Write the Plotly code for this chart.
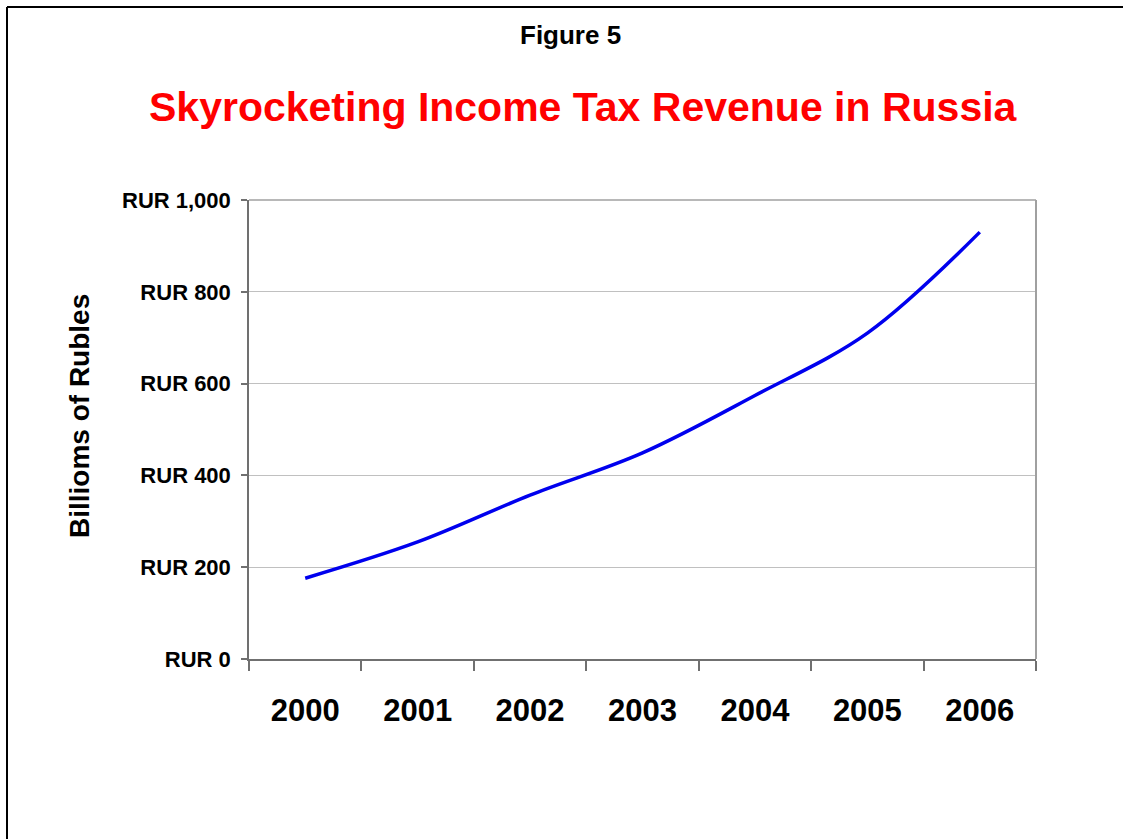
import plotly.graph_objects as go

years = ["2000", "2001", "2002", "2003", "2004", "2005", "2006"]
revenue = [176, 255, 357, 449, 574, 710, 930]
y_tick_vals = [0, 200, 400, 600, 800, 1000]
y_tick_text = ["RUR 0", "RUR 200", "RUR 400", "RUR 600", "RUR 800", "RUR 1,000"]

FONT = "Liberation Sans, Arial, sans-serif"

fig = go.Figure()
fig.add_trace(go.Scatter(
    x=years, y=revenue, mode="lines",
    line=dict(color="#0000ee", width=3.5, shape="spline", smoothing=1.0),
    hoverinfo="x+y", showlegend=False,
))

fig.update_layout(
    width=1123, height=839,
    margin=dict(l=249, r=87, t=200, b=180),
    paper_bgcolor="white", plot_bgcolor="white",
    font=dict(family=FONT, color="black"),
    xaxis=dict(
        type="category", tickson="boundaries",
        showgrid=False, showline=True, linecolor="#707070", linewidth=1.5,
        ticks="outside", ticklen=10, tickcolor="#707070", tickwidth=1.5,
        tickfont=dict(size=31, family=FONT, weight="bold"),
        ticklabelstandoff=23,
        range=[-0.5, 6.5], fixedrange=True,
    ),
    yaxis=dict(
        range=[0, 1000], tickvals=y_tick_vals, ticktext=y_tick_text,
        showgrid=True, gridcolor="#c0c0c0", gridwidth=1,
        showline=True, linecolor="#707070", linewidth=1.5,
        ticks="outside", ticklen=6, tickcolor="#707070", tickwidth=1.5,
        tickfont=dict(size=22, family=FONT, weight="bold"),
        ticklabelstandoff=6,
        zeroline=False, fixedrange=True,
    ),
    shapes=[
        # top and right frame of plot area
        dict(type="line", xref="paper", yref="paper", x0=0, x1=1, y0=1, y1=1,
             line=dict(color="#a0a0a0", width=1.5)),
        dict(type="line", xref="paper", yref="paper", x0=1, x1=1, y0=0, y1=1,
             line=dict(color="#a0a0a0", width=2)),
        # outer page border (left and top edges visible)
        dict(type="line", xref="paper", yref="paper",
             x0=(7 - 249) / 787, x1=(7 - 249) / 787,
             y0=(659 - 839) / 459, y1=(659 - 7) / 459,
             line=dict(color="black", width=2), layer="below"),
        dict(type="line", xref="paper", yref="paper",
             x0=(7 - 249) / 787, x1=(1123 - 249) / 787,
             y0=(659 - 7) / 459, y1=(659 - 7) / 459,
             line=dict(color="black", width=2), layer="below"),
    ],
    annotations=[
        dict(text="<b>Figure 5</b>", xref="paper", yref="paper",
             x=(570 - 249) / 787, y=(659 - 35) / 459, showarrow=False,
             font=dict(size=26, family=FONT, color="black"),
             xanchor="center", yanchor="middle"),
        dict(text="<b>Skyrocketing Income Tax Revenue in Russia</b>", xref="paper", yref="paper",
             x=(583 - 249) / 787, y=(659 - 107) / 459, showarrow=False,
             font=dict(size=41, family=FONT, color="#ff0000"),
             xanchor="center", yanchor="middle"),
        dict(text="<b>Billioms of Rubles</b>", xref="paper", yref="paper",
             x=(79 - 249) / 787, y=(659 - 416) / 459, showarrow=False, textangle=-90,
             font=dict(size=28, family=FONT, color="black"),
             xanchor="center", yanchor="middle"),
    ],
)

fig.write_html("out.html")
